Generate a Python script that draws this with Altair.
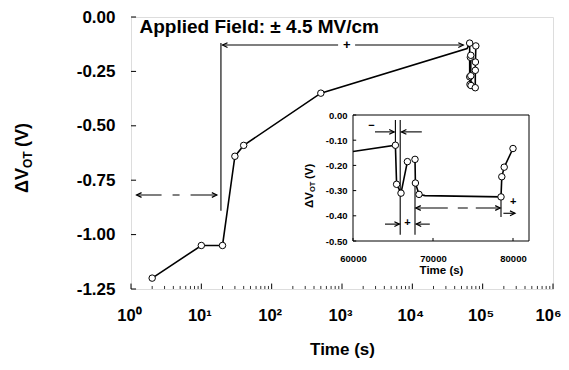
import altair as alt
import pandas as pd

FONT = "Liberation Sans"

# ---------------- data ----------------
main_t = [2, 10, 20, 30, 40, 500]
main_v = [-1.20, -1.05, -1.05, -0.64, -0.59, -0.35]

ins_t = [60000, 65300, 65450, 66000, 66800, 67750, 67800, 68250, 69000, 78500, 78600, 78900, 80000]
ins_v = [-0.145, -0.12, -0.275, -0.31, -0.185, -0.176, -0.27, -0.315, -0.32, -0.325, -0.245, -0.207, -0.133]
ins_seg = [0, 0, 0, 0, 0, 1, 1, 1, 1, 1, 1, 1, 1]
ins_mark = [0, 1, 1, 1, 1, 1, 1, 1, 0, 1, 1, 1, 1]

main_xticks = [1, 10, 100, 1000, 10000, 100000, 1000000]
main_xminor = [k * 10 ** d for d in range(6) for k in range(2, 10)]
main_yticks = [0, -0.25, -0.5, -0.75, -1.0, -1.25]
ins_xticks = [60000, 70000, 80000]
ins_yticks = [0, -0.1, -0.2, -0.3, -0.4, -0.5]

# main annotations
m_vl_t, m_vl_v1, m_vl_v2 = [19], [-0.12], [-0.89]
m_ar_t1, m_ar_t2, m_ar_v = [20, 1535], [880, 53000], [-0.129, -0.129]
m_da_t1, m_da_t2, m_da_v = [1.2], [16.6], [-0.818]
m_lh_t, m_lh_v = [20, 1.2], [-0.129, -0.818]
m_rh_t, m_rh_v = [53000, 16.6], [-0.129, -0.818]
m_sg_t, m_sg_v, m_sg_s = [1170], [-0.129], ["+"]
m_txt_t, m_txt_v, m_txt_s = [1.32], [-0.046], ["Applied Field: \u00b1 4.5 MV/cm"]

# inset annotations
i_vl_t = [65300, 65900, 67750, 78500]
i_vl_v1 = [-0.02, -0.02, -0.27, -0.325]
i_vl_v2 = [-0.12, -0.475, -0.475, -0.405]
i_ar_t1 = [62750, 68600, 64000, 69600, 78800]
i_ar_t2 = [65150, 66050, 65800, 67900, 80250]
i_ar_v = [-0.067, -0.067, -0.433, -0.433, -0.39]
i_da_t1, i_da_t2, i_da_v = [67850], [78400], [-0.369]
i_lh_t, i_lh_v = [66050, 67900, 67850], [-0.067, -0.433, -0.369]
i_rh_t, i_rh_v = [65150, 65800, 80250, 78400], [-0.067, -0.433, -0.39, -0.369]
i_sg_t, i_sg_v, i_sg_s = [62300, 66800, 80040], [-0.042, -0.43, -0.345], ["\u2212", "+", "+"]
i_box = dict(a=[60000], b=[82000], c=[-0.5], d=[0.0])

LEFT = "M2.5,-1.2L0,0L2.5,1.2"
RIGHT = "M-2.5,-1.2L0,0L-2.5,1.2"

# ---------------- scales / axes ----------------
xs_m = alt.Scale(type="log", domain=[1, 1e6])
ys_m = alt.Scale(domain=[-1.25, 0], zero=False, nice=False)
xs_i = alt.Scale(domain=[60000, 82000], range=[222, 398], zero=False, nice=False)
ys_i = alt.Scale(domain=[-0.5, 0], range=[224, 98], zero=False, nice=False)

ax_mx = alt.Axis(values=main_xticks, grid=False, ticks=False, domain=False,
                 labelExpr="'10' + ['\u2070','\u00b9','\u00b2','\u00b3','\u2074','\u2075','\u2076'][round(log(datum.value)/LN10)]",
                 labelFont=FONT, labelFontSize=16.5, labelFontWeight="bold", labelColor="black",
                 labelPadding=18, labelFlush=False,
                 labelOffset={"condition": {"test": "datum.value >= 1000000", "value": -5}, "value": -2},
                 title="Time (s)", titleFont=FONT, titleFontSize=17, titleFontWeight="bold",
                 titleColor="black", titlePadding=18)
ax_my = alt.Axis(values=main_yticks, grid=False, ticks=False, domain=False,
                 labelExpr="datum.value == 0 ? '0.00' : '-' + format(abs(datum.value), '.2f')",
                 labelFont=FONT, labelFontSize=17, labelFontWeight="bold", labelColor="black",
                 labelPadding=16, labelFlush=False, labelBaseline="middle", title="")
ax_ix = alt.Axis(values=ins_xticks, orient="bottom", offset=-48, grid=False, ticks=False, domain=False,
                 format="d", labelFont=FONT, labelFontSize=9.5, labelFontWeight="bold", labelColor="black",
                 labelPadding=12, labelFlush=False,
                 title="Time (s)", titleFont=FONT, titleFontSize=11.5, titleFontWeight="bold",
                 titleColor="black", titlePadding=2)
ax_iy = alt.Axis(values=ins_yticks, orient="left", offset=-222, grid=False, ticks=False, domain=False,
                 labelExpr="datum.value == 0 ? '0.00' : '-' + format(abs(datum.value), '.2f')",
                 labelFont=FONT, labelFontSize=9.5, labelFontWeight="bold", labelColor="black",
                 labelPadding=6, labelFlush=False, title="")


def layers(xs, ys, ax_x, ax_y, ldf, vl, ar, da, lh, rh, dash):
    X = lambda f: alt.X(f, type="quantitative", scale=xs, axis=None)
    Y = lambda f: alt.Y(f, type="quantitative", scale=ys, axis=None)
    out = []
    out.append(alt.Chart(ldf).mark_line(color="black", strokeWidth=1.6).encode(
        x=alt.X("t:Q", scale=xs, axis=ax_x), y=alt.Y("v:Q", scale=ys, axis=ax_y),
        detail="seg:N", order="t:Q"))
    out.append(alt.Chart(pd.DataFrame(vl)).mark_rule(color="black", strokeWidth=1.1).encode(
        x=X("t"), y=Y("v1"), y2="v2"))
    out.append(alt.Chart(pd.DataFrame(ar)).mark_rule(color="black", strokeWidth=1.1).encode(
        x=X("t1"), x2="t2", y=Y("v")))
    out.append(alt.Chart(pd.DataFrame(da)).mark_rule(color="black", strokeWidth=1.1, strokeDash=dash).encode(
        x=X("t1"), x2="t2", y=Y("v")))
    out.append(alt.Chart(pd.DataFrame(lh)).mark_point(shape=LEFT, size=16, filled=False, color="black",
                                                      strokeWidth=1.2, opacity=1).encode(x=X("t"), y=Y("v")))
    out.append(alt.Chart(pd.DataFrame(rh)).mark_point(shape=RIGHT, size=16, filled=False, color="black",
                                                      strokeWidth=1.2, opacity=1).encode(x=X("t"), y=Y("v")))
    out.append(alt.Chart(ldf).transform_filter("datum.mk == 1").mark_point(
        shape="circle", size=42, fill="white", stroke="black", strokeWidth=1, opacity=1, fillOpacity=1).encode(
        x=X("t"), y=Y("v")))
    return out


line_m = pd.DataFrame({"t": main_t + ins_t, "v": main_v + ins_v,
                       "seg": [0] * len(main_t) + ins_seg, "mk": [1] * len(main_t) + ins_mark})
line_i = pd.DataFrame({"t": ins_t, "v": ins_v, "seg": ins_seg, "mk": ins_mark})

XM = lambda f: alt.X(f, type="quantitative", scale=xs_m, axis=None)
YM = lambda f: alt.Y(f, type="quantitative", scale=ys_m, axis=None)
XI = lambda f: alt.X(f, type="quantitative", scale=xs_i, axis=None)
YI = lambda f: alt.Y(f, type="quantitative", scale=ys_i, axis=None)

main_layers = layers(xs_m, ys_m, ax_mx, ax_my, line_m,
                     dict(t=m_vl_t, v1=m_vl_v1, v2=m_vl_v2),
                     dict(t1=m_ar_t1, t2=m_ar_t2, v=m_ar_v),
                     dict(t1=m_da_t1, t2=m_da_t2, v=m_da_v),
                     dict(t=m_lh_t, v=m_lh_v), dict(t=m_rh_t, v=m_rh_v), [25, 11, 7, 11, 40])
# main ticks (inward)
main_layers.append(alt.Chart(pd.DataFrame({"v": main_yticks})).transform_calculate(a="1", b="1.18").mark_rule(
    color="black", strokeWidth=1).encode(x=XM("a"), x2="b:Q", y=YM("v")))
main_layers.append(alt.Chart(pd.DataFrame({"t": main_xticks})).transform_calculate(a="-1.25", b="-1.225").mark_rule(
    color="black", strokeWidth=1).encode(x=XM("t"), y=YM("a"), y2="b:Q"))
main_layers.append(alt.Chart(pd.DataFrame({"t": main_xminor})).transform_calculate(a="-1.25", b="-1.236").mark_rule(
    color="black", strokeWidth=0.8).encode(x=XM("t"), y=YM("a"), y2="b:Q"))
main_layers.append(alt.Chart(pd.DataFrame({"t": m_sg_t, "v": m_sg_v, "s": m_sg_s})).mark_text(
    font=FONT, fontSize=13, fontWeight="bold", color="black", baseline="middle", align="center").encode(
    x=XM("t"), y=YM("v"), text="s:N"))
main_layers.append(alt.Chart(pd.DataFrame({"t": m_txt_t, "v": m_txt_v, "s": m_txt_s})).mark_text(
    font=FONT, fontSize=19, fontWeight="bold", color="black", baseline="middle", align="left").encode(
    x=XM("t"), y=YM("v"), text="s:N"))
# main y title with subscript
ttl = pd.DataFrame({"s": ["\u0394V", "OT", "(V)"]})
main_layers.append(alt.Chart(ttl).transform_filter("datum.s == '\u0394V'").mark_text(
    font=FONT, fontSize=18, fontWeight="bold", color="black", angle=270, align="right", baseline="middle").encode(
    x=alt.value(-108), y=alt.value(151), text="s:N"))
main_layers.append(alt.Chart(ttl).transform_filter("datum.s == 'OT'").mark_text(
    font=FONT, fontSize=12, fontWeight="bold", color="black", angle=270, align="left", baseline="middle", dy=5).encode(
    x=alt.value(-108), y=alt.value(151), text="s:N"))
main_layers.append(alt.Chart(ttl).transform_filter("datum.s == '(V)'").mark_text(
    font=FONT, fontSize=18, fontWeight="bold", color="black", angle=270, align="left", baseline="middle").encode(
    x=alt.value(-108), y=alt.value(130), text="s:N"))

# inset
inset_layers = [alt.Chart(pd.DataFrame(i_box)).mark_rect(fill="white", stroke="black", strokeWidth=1).encode(
    x=XI("a"), x2="b:Q", y=YI("c"), y2="d:Q")]
inset_layers += layers(xs_i, ys_i, ax_ix, ax_iy, line_i,
                       dict(t=i_vl_t, v1=i_vl_v1, v2=i_vl_v2),
                       dict(t1=i_ar_t1, t2=i_ar_t2, v=i_ar_v),
                       dict(t1=i_da_t1, t2=i_da_t2, v=i_da_v),
                       dict(t=i_lh_t, v=i_lh_v), dict(t=i_rh_t, v=i_rh_v), [32, 10, 10, 8, 40])
inset_layers.append(alt.Chart(pd.DataFrame({"v": ins_yticks})).transform_calculate(a="60000", b="60400").mark_rule(
    color="black", strokeWidth=1).encode(x=XI("a"), x2="b:Q", y=YI("v")))
inset_layers.append(alt.Chart(pd.DataFrame({"t": ins_xticks})).transform_calculate(a="-0.5", b="-0.488").mark_rule(
    color="black", strokeWidth=1).encode(x=XI("t"), y=YI("a"), y2="b:Q"))
inset_layers.append(alt.Chart(pd.DataFrame({"t": i_sg_t, "v": i_sg_v, "s": i_sg_s})).mark_text(
    font=FONT, fontSize=11, fontWeight="bold", color="black", baseline="middle", align="center").encode(
    x=XI("t"), y=YI("v"), text="s:N"))
inset_layers.append(alt.Chart(ttl).transform_filter("datum.s == '\u0394V'").mark_text(
    font=FONT, fontSize=11.5, fontWeight="bold", color="black", angle=270, align="right", baseline="middle").encode(
    x=alt.value(179), y=alt.value(175), text="s:N"))
inset_layers.append(alt.Chart(ttl).transform_filter("datum.s == 'OT'").mark_text(
    font=FONT, fontSize=7.5, fontWeight="bold", color="black", angle=270, align="left", baseline="middle", dy=3).encode(
    x=alt.value(179), y=alt.value(175), text="s:N"))
inset_layers.append(alt.Chart(ttl).transform_filter("datum.s == '(V)'").mark_text(
    font=FONT, fontSize=11.5, fontWeight="bold", color="black", angle=270, align="left", baseline="middle").encode(
    x=alt.value(179), y=alt.value(162), text="s:N"))

chart = alt.layer(*(main_layers + inset_layers)).resolve_scale(x="independent", y="independent").properties(
    width=422, height=272,
    autosize=alt.AutoSizeParams(type="none"),
    padding={"left": 123, "top": 9, "right": 8, "bottom": 73},
).configure_view(stroke="black", strokeWidth=1.3).configure(background="white")

chart.save("out.html", embed_options={"renderer": "svg", "actions": False})
